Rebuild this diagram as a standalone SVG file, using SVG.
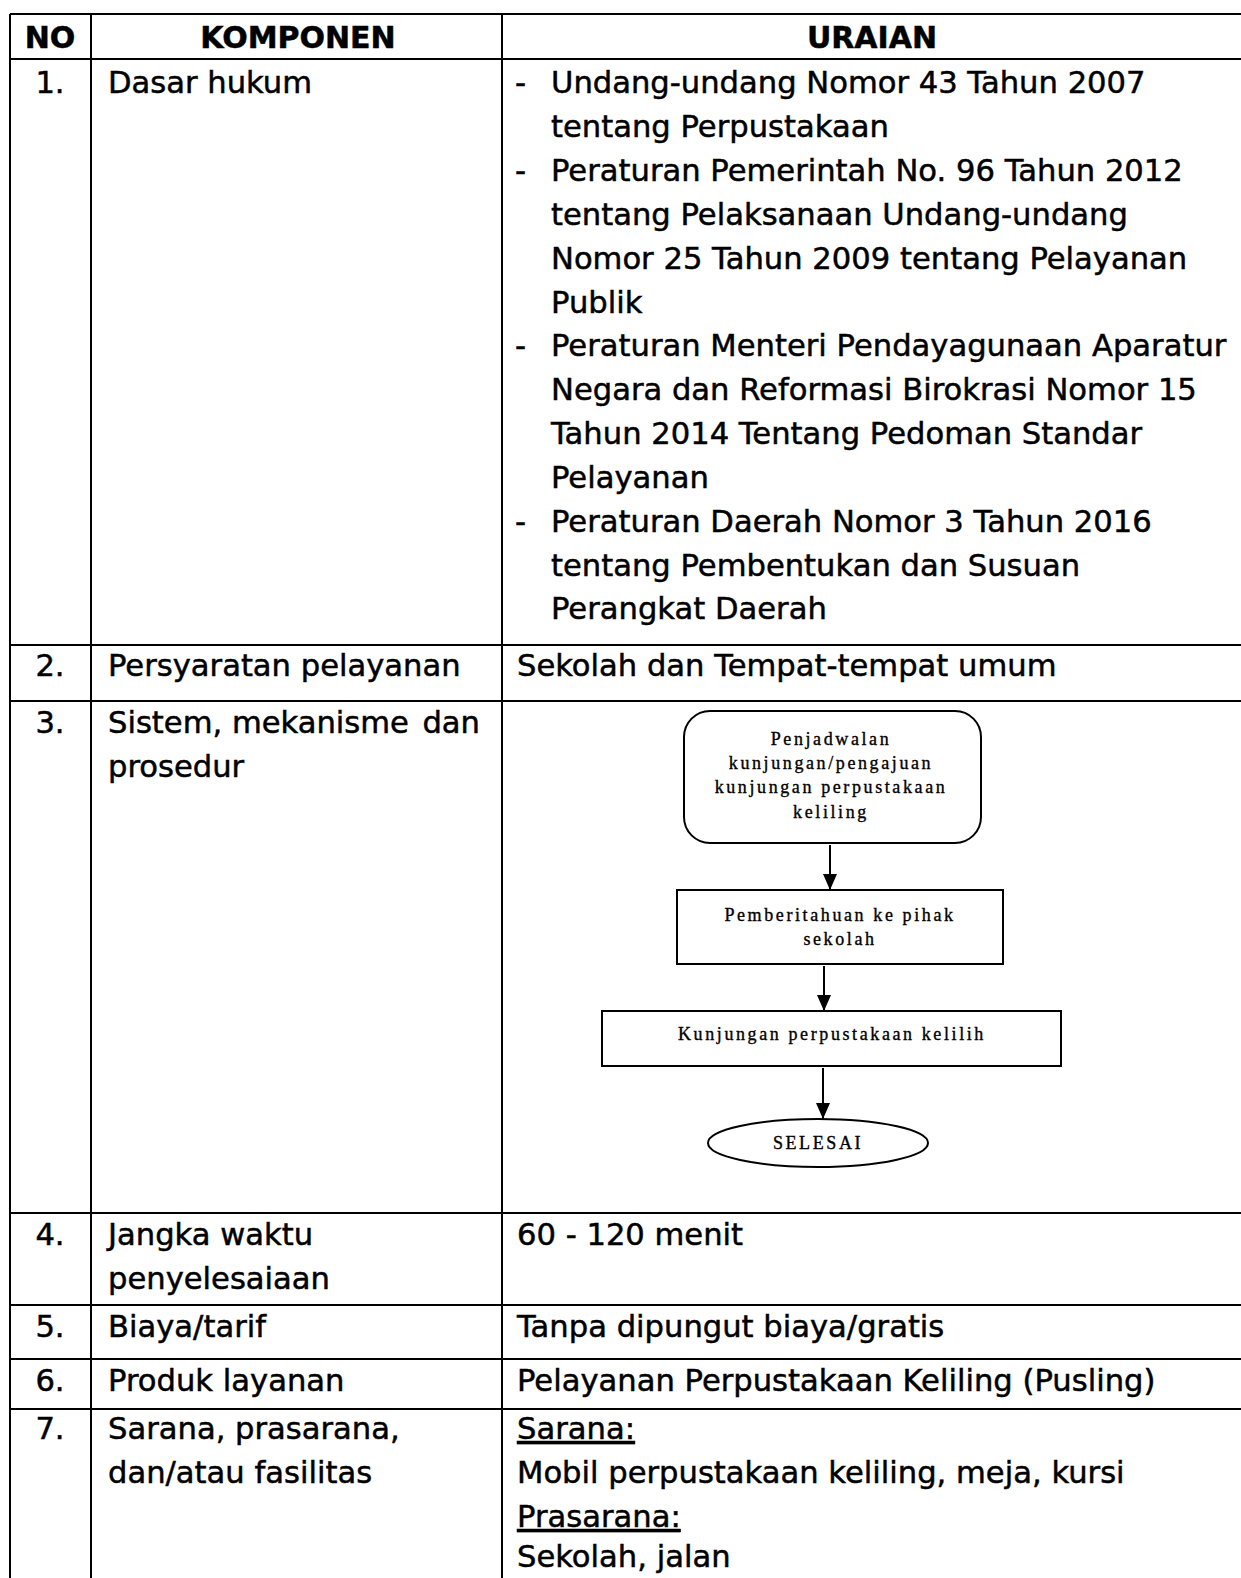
<svg xmlns="http://www.w3.org/2000/svg" width="1241" height="1578" viewBox="0 0 1241 1578">
  <style>
    .t { font-family: "DejaVu Sans", Verdana, sans-serif; font-size: 30.6px; fill: #000; stroke: #000; stroke-width: 0.5px; }
    .hd { font-weight: bold; text-anchor: middle; font-size: 30px; }
    .num { text-anchor: middle; }
    .grid { stroke: #000; stroke-width: 2; fill: none; }
    .ft { font-family: "Liberation Serif", "Times New Roman", serif; font-size: 18px; letter-spacing: 2.6px; text-anchor: middle; fill: #000; stroke: #000; stroke-width: 0.35px; }
    .box { fill: #fff; stroke: #000; stroke-width: 2; }
    .conn { stroke: #000; stroke-width: 2; fill: none; marker-end: url(#ah); }
  </style>
  <defs>
    <marker id="ah" markerUnits="userSpaceOnUse" markerWidth="18" markerHeight="16" refX="16" refY="8" orient="auto">
      <path d="M0,1 L16,8 L0,15 z" fill="#000"/>
    </marker>
  </defs>

  <rect width="1241" height="1578" fill="#fff"/>

  <!-- table grid -->
  <g id="grid" class="grid">
    <line x1="10" y1="14" x2="1241" y2="14"/>
    <line x1="10" y1="59" x2="1241" y2="59"/>
    <line x1="10" y1="645" x2="1241" y2="645"/>
    <line x1="10" y1="701" x2="1241" y2="701"/>
    <line x1="10" y1="1213" x2="1241" y2="1213"/>
    <line x1="10" y1="1305" x2="1241" y2="1305"/>
    <line x1="10" y1="1359" x2="1241" y2="1359"/>
    <line x1="10" y1="1409" x2="1241" y2="1409"/>
    <line x1="10" y1="14" x2="10" y2="1578"/>
    <line x1="91" y1="14" x2="91" y2="1578"/>
    <line x1="502" y1="14" x2="502" y2="1578"/>
  </g>

  <!-- header -->
  <g id="header" class="t">
    <text class="hd" x="50" y="48">NO</text>
    <text class="hd" x="298" y="48">KOMPONEN</text>
    <text class="hd" x="872" y="48">URAIAN</text>
  </g>

  <!-- row 1 -->
  <g id="row1" class="t">
    <text class="num" x="50" y="93">1.</text>
    <text x="108" y="93">Dasar hukum</text>
    <text x="515" y="93">-</text>
    <text x="551" y="93">Undang-undang Nomor 43 Tahun 2007</text>
    <text x="551" y="137">tentang Perpustakaan</text>
    <text x="515" y="181">-</text>
    <text x="551" y="181">Peraturan Pemerintah No. 96 Tahun 2012</text>
    <text x="551" y="225">tentang Pelaksanaan Undang-undang</text>
    <text x="551" y="269">Nomor 25 Tahun 2009 tentang Pelayanan</text>
    <text x="551" y="313">Publik</text>
    <text x="515" y="356">-</text>
    <text x="551" y="356">Peraturan Menteri Pendayagunaan Aparatur</text>
    <text x="551" y="400">Negara dan Reformasi Birokrasi Nomor 15</text>
    <text x="551" y="444">Tahun 2014 Tentang Pedoman Standar</text>
    <text x="551" y="488">Pelayanan</text>
    <text x="515" y="532">-</text>
    <text x="551" y="532">Peraturan Daerah Nomor 3 Tahun 2016</text>
    <text x="551" y="576">tentang Pembentukan dan Susuan</text>
    <text x="551" y="619">Perangkat Daerah</text>
  </g>

  <!-- row 2 -->
  <g id="row2" class="t">
    <text class="num" x="50" y="676">2.</text>
    <text x="108" y="676">Persyaratan pelayanan</text>
    <text x="517" y="676">Sekolah dan Tempat-tempat umum</text>
  </g>

  <!-- row 3 -->
  <g id="row3" class="t">
    <text class="num" x="50" y="733">3.</text>
    <text x="108" y="733">Sistem, mekanisme</text>
    <text x="480" y="733" text-anchor="end">dan</text>
    <text x="108" y="777">prosedur</text>
  </g>

  <!-- flowchart connectors -->
  <g id="connectors">
    <line class="conn" x1="830" y1="845" x2="830" y2="890"/>
    <line class="conn" x1="824" y1="966" x2="824" y2="1011"/>
    <line class="conn" x1="823" y1="1068" x2="823" y2="1119"/>
  </g>

  <!-- flowchart nodes -->
  <g id="node-penjadwalan">
    <rect class="box" x="684" y="711" width="297" height="132" rx="26" ry="26"/>
    <text class="ft" x="831" y="745">Penjadwalan</text>
    <text class="ft" x="831" y="769">kunjungan/pengajuan</text>
    <text class="ft" x="831" y="793">kunjungan perpustakaan</text>
    <text class="ft" x="831" y="818">keliling</text>
  </g>
  <g id="node-pemberitahuan">
    <rect class="box" x="677" y="890" width="326" height="74"/>
    <text class="ft" x="840" y="921">Pemberitahuan ke pihak</text>
    <text class="ft" x="840" y="945">sekolah</text>
  </g>
  <g id="node-kunjungan">
    <rect class="box" x="602" y="1011" width="459" height="55"/>
    <text class="ft" x="832" y="1040">Kunjungan perpustakaan kelilih</text>
  </g>
  <g id="node-selesai">
    <ellipse class="box" cx="818" cy="1143" rx="110" ry="24"/>
    <text class="ft" x="818" y="1149">SELESAI</text>
  </g>

  <!-- row 4 -->
  <g id="row4" class="t">
    <text class="num" x="50" y="1245">4.</text>
    <text x="108" y="1245">Jangka waktu</text>
    <text x="108" y="1289">penyelesaiaan</text>
    <text x="517" y="1245">60 - 120 menit</text>
  </g>

  <!-- row 5 -->
  <g id="row5" class="t">
    <text class="num" x="50" y="1337">5.</text>
    <text x="108" y="1337">Biaya/tarif</text>
    <text x="517" y="1337">Tanpa dipungut biaya/gratis</text>
  </g>

  <!-- row 6 -->
  <g id="row6" class="t">
    <text class="num" x="50" y="1391">6.</text>
    <text x="108" y="1391">Produk layanan</text>
    <text x="517" y="1391">Pelayanan Perpustakaan Keliling (Pusling)</text>
  </g>

  <!-- row 7 -->
  <g id="row7" class="t">
    <text class="num" x="50" y="1439">7.</text>
    <text x="108" y="1439">Sarana, prasarana,</text>
    <text x="108" y="1483">dan/atau fasilitas</text>
    <text x="517" y="1439" text-decoration="underline">Sarana:</text>
    <text x="517" y="1483">Mobil perpustakaan keliling, meja, kursi</text>
    <text x="517" y="1527" text-decoration="underline">Prasarana:</text>
    <text x="517" y="1567">Sekolah, jalan</text>
  </g>
</svg>
